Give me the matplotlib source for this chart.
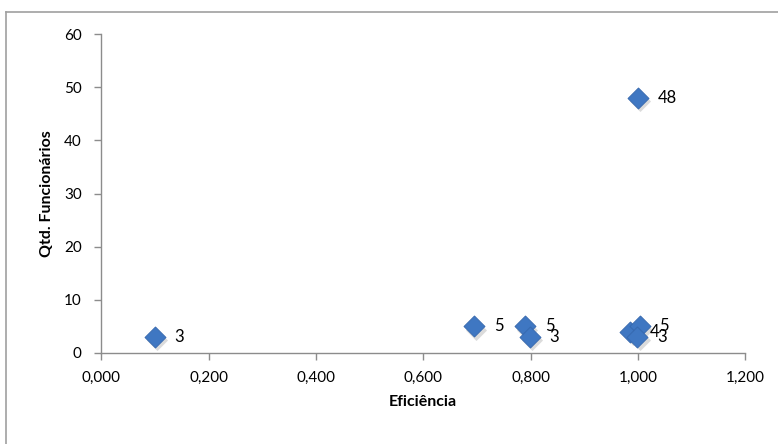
import matplotlib
matplotlib.use("Agg")
import matplotlib.pyplot as plt
from matplotlib.lines import Line2D
from matplotlib.ticker import FuncFormatter

plt.rcParams['font.family'] = ['Lato', 'DejaVu Sans']

eficiencia = [0.100, 0.695, 0.790, 0.798, 0.986, 1.003, 0.999, 1.000]
funcionarios = [3, 5, 5, 3, 4, 5, 3, 48]
rotulos = ['3', '5', '5', '3', '4', '5', '3', '48']

fig = plt.figure(figsize=(7.78, 4.44), dpi=100)
ax = fig.add_axes([0.130, 0.205, 0.828, 0.718])

# sombra dos marcadores
ax.scatter([x + 0.004 for x in eficiencia], [y - 0.6 for y in funcionarios],
           marker='D', s=115, color='#b8b8b8', alpha=0.5, linewidths=0, zorder=2)
ax.scatter(eficiencia, funcionarios, marker='D', s=115, color='#3f77c2',
           edgecolors='#3567ad', linewidths=0.6, zorder=3)

for x, y, t in zip(eficiencia, funcionarios, rotulos):
    ax.annotate(t, (x, y), xytext=(14, 0), textcoords='offset points',
                ha='left', va='center', fontsize=12, color='black')

ax.set_xlim(0, 1.2)
ax.set_ylim(0, 60)
ax.set_xticks([0, 0.2, 0.4, 0.6, 0.8, 1.0, 1.2])
ax.set_yticks([0, 10, 20, 30, 40, 50, 60])
ax.xaxis.set_major_formatter(FuncFormatter(lambda v, p: f"{v:.3f}".replace('.', ',')))

for s in ['top', 'right']:
    ax.spines[s].set_visible(False)
for s in ['left', 'bottom']:
    ax.spines[s].set_color('#8c8c8c')
    ax.spines[s].set_linewidth(1.0)
ax.tick_params(axis='both', colors='#8c8c8c', labelcolor='black', labelsize=11,
               length=5, width=1.0, direction='out')
ax.tick_params(axis='y', pad=9)
ax.tick_params(axis='x', pad=8)

ax.set_xlabel('Eficiência', fontsize=11.5, fontweight='bold', labelpad=7)
ax.set_ylabel('Qtd. Funcionários', fontsize=11.5, fontweight='bold', labelpad=7)

# moldura da área do gráfico
fig.add_artist(Line2D([0.008, 0.008], [0.0, 0.972], transform=fig.transFigure,
                      color='#a0a0a0', linewidth=1.2))
fig.add_artist(Line2D([0.008, 1.0], [0.972, 0.972], transform=fig.transFigure,
                      color='#a0a0a0', linewidth=1.2))

fig.savefig('out.png', dpi=100)
